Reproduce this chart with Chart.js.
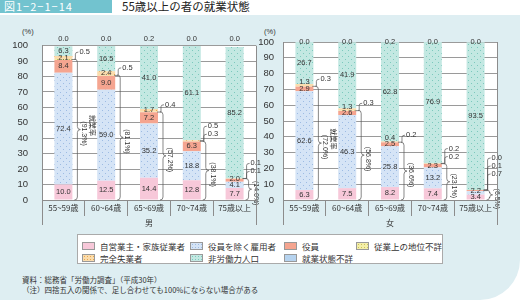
<!DOCTYPE html>
<html>
<head>
<meta charset="utf-8">
<script src="https://cdn.jsdelivr.net/npm/chart.js@4.4.1/dist/chart.umd.min.js"></script>
<style>
  body { margin: 0; width: 520px; height: 300px; overflow: hidden; background: #fff; position: relative;
         font-family: 'Noto Sans CJK JP', sans-serif; color: #333; }
  #panel { position: absolute; left: 0; top: 15px; width: 520px; height: 285px; background: #deeef2;
           border-bottom-right-radius: 40px; }
  #fig { position: absolute; left: 0; top: 0; width: 112px; height: 13px; background: #72c3cf; color: #fff;
         font-size: 11px; line-height: 13px; letter-spacing: 1px; padding-left: 4px; box-sizing: border-box; }
  #title { position: absolute; left: 122px; top: -1px; font-size: 11.5px; line-height: 15px; color: #222; }
  .unit { position: absolute; top: 27px; font-size: 7.5px; font-family: 'Liberation Sans', sans-serif; }
  canvas { position: absolute; top: 26px; }
  #legend { position: absolute; left: 77px; top: 234px; width: 366px; height: 30px; background: #fff;
            border: 1px solid #aaa; box-sizing: border-box; }
  .item { position: absolute; font-size: 8.5px; line-height: 10px; white-space: nowrap; }
  .item i { position: absolute; left: 0; top: 1px; width: 13px; height: 8px; border: 0.5px solid #999; box-sizing: border-box; }
  .item span { position: absolute; left: 18px; top: 0; }
  .note { position: absolute; left: 22px; font-size: 7.5px; line-height: 9px; color: #333; }
</style>
</head>
<body>
<div id="panel"></div>
<div id="fig">図1−2−1−14</div>
<div id="title">55歳以上の者の就業状態</div>
<div class="unit" style="left:22px">(%)</div>
<div class="unit" style="left:264px">(%)</div>
<canvas id="male" width="262" height="204" style="left:0px"></canvas>
<canvas id="female" width="262" height="204" style="left:258px"></canvas>
<div id="legend"></div>
<div class="note" style="top:275px">資料：総務省「労働力調査」（平成30年）</div>
<div class="note" style="top:285px">（注）四捨五入の関係で、足し合わせても100%にならない場合がある</div>
<script>
// categories
const ageGroups = ['55~59歳', '60~64歳', '65~69歳', '70~74歳', '75歳以上'];
const seriesNames = ['自営業主・家族従業者', '役員を除く雇用者', '役員', '従業上の地位不詳',
                     '完全失業者', '非労働力人口', '就業状態不詳'];

// 男
const maleSelfEmployed = [10.0, 12.5, 14.4, 12.8, 7.7];
const maleEmployees = [72.4, 59.0, 35.2, 18.8, 4.1];
const maleOfficers = [8.4, 9.0, 7.2, 6.3, 2.0];
const maleStatusUnknown = [0.5, 0.5, 0.4, 0.3, 0.1];
const maleUnemployed = [2.1, 2.4, 1.7, 0.5, 0.1];
const maleNotInLabor = [6.3, 16.5, 41.0, 61.1, 85.2];
const maleLaborUnknown = [0.0, 0.0, 0.2, 0.0, 0.0];
const maleEmploymentRate = [91.3, 81.1, 57.2, 38.1, 14.0];

// 女
const femaleSelfEmployed = [6.3, 7.5, 8.2, 7.4, 3.4];
const femaleEmployees = [62.6, 46.3, 25.8, 13.2, 2.2];
const femaleOfficers = [2.9, 2.6, 2.5, 2.3, 0.7];
const femaleStatusUnknown = [0.3, 0.3, 0.2, 0.2, 0.1];
const femaleUnemployed = [1.3, 1.3, 0.4, 0.2, 0.0];
const femaleNotInLabor = [26.7, 41.9, 62.8, 76.9, 93.5];
const femaleLaborUnknown = [0.0, 0.0, 0.2, 0.0, 0.0];
const femaleEmploymentRate = [72.0, 56.8, 36.6, 23.1, 6.5];

// which segments get a label outside the bar (dataset index, top to bottom)
const maleCallouts = [[3], [3], [3], [4, 3], [4, 3]];
const femaleCallouts = [[3], [3], [3], [4, 3], [4, 3, 2]];

const NUM_FONT = "'Liberation Sans', 'Noto Sans CJK JP', sans-serif";
const JP_FONT = "'Noto Sans CJK JP', sans-serif";

// fill colours: [background, dot colour or null]
const fills = [
  ['#f7c8d9', null],
  ['#d5e4f6', '#9dbbe3'],
  ['#f5a590', null],
  ['#f3eea8', '#c9c05a'],
  ['#fbdcac', '#e8a84e'],
  ['#c3e8e2', '#7cc9bd'],
  ['#b6d3ef', null]
];

function makeFill(ctx, bg, dot) {
  if (!dot) return bg;
  const tile = document.createElement('canvas');
  tile.width = 6; tile.height = 6;
  const g = tile.getContext('2d');
  g.fillStyle = bg; g.fillRect(0, 0, 6, 6);
  g.fillStyle = dot; g.fillRect(0, 0, 1, 1); g.fillRect(3, 3, 1, 1);
  return ctx.createPattern(tile, 'repeat');
}

// legend
const legendPos = [[4, 6], [112, 6], [206, 6], [278, 6], [4, 18], [112, 18], [206, 18]];
const legendOrder = [0, 1, 2, 3, 4, 5, 6];
const legendEl = document.getElementById('legend');
legendOrder.forEach((k, n) => {
  const [bg, dot] = fills[k];
  const it = document.createElement('div');
  it.className = 'item';
  it.style.left = legendPos[n][0] + 'px';
  it.style.top = legendPos[n][1] + 'px';
  const sw = document.createElement('i');
  sw.style.background = dot ? `radial-gradient(${dot} 0.7px, transparent 0.9px) 0 0/3px 3px, ${bg}` : bg;
  const tx = document.createElement('span');
  tx.textContent = seriesNames[k];
  it.appendChild(sw); it.appendChild(tx);
  legendEl.appendChild(it);
});
// legend rows: second row is 完全失業者, 非労働力人口, 就業状態不詳
legendEl.children[3].style.left = '278px';

const framePlugin = {
  id: 'frame',
  beforeDraw(chart) {
    const { ctx, chartArea: a } = chart;
    ctx.save();
    ctx.fillStyle = '#fff';
    ctx.fillRect(a.left, a.top, a.right - a.left, a.bottom - a.top);
    ctx.restore();
  },
  afterDraw(chart) {
    const { ctx, chartArea: a } = chart;
    ctx.save();
    ctx.strokeStyle = '#8c8c8c';
    ctx.lineWidth = 1;
    ctx.beginPath();
    ctx.moveTo(Math.round(a.right) + 0.5, a.top);
    ctx.lineTo(Math.round(a.right) + 0.5, a.bottom + 25);
    ctx.moveTo(Math.round(a.left) + 0.5, a.bottom);
    ctx.lineTo(Math.round(a.left) + 0.5, a.bottom + 25);
    ctx.stroke();
    ctx.restore();
  }
};

const notesPlugin = {
  id: 'notes',
  afterDatasetsDraw(chart, args, opts) {
    const ctx = chart.ctx;
    const ys = chart.scales.y;
    const n = chart.data.labels.length;
    ctx.save();
    ctx.textAlign = 'center';
    ctx.textBaseline = 'middle';
    ctx.fillStyle = '#333';
    ctx.strokeStyle = '#555';
    ctx.lineWidth = 0.7;
    for (let i = 0; i < n; i++) {
      const callouts = opts.callouts[i];
      let prevY = Infinity;
      let bar0 = null;
      chart.data.datasets.forEach((ds, di) => {
        const bar = chart.getDatasetMeta(di).data[i].getProps(['x', 'y', 'base', 'width'], true);
        if (!bar0) bar0 = bar;
        if (callouts.includes(di)) return;
        ctx.font = '7.5px ' + NUM_FONT;
        const txt = ds.data[i].toFixed(1);
        let y;
        if (di === chart.data.datasets.length - 1) {
          y = ys.top + opts.topLabelOffset;
        } else {
          y = (bar.y + bar.base) / 2;
          if (y > prevY - 6.5) y = prevY - 6.5;
          prevY = y;
        }
        ctx.fillText(txt, bar.x, y);
      });
      // callout labels with leader lines
      const right = bar0.x + bar0.width / 2;
      const empTop = ys.getPixelForValue(opts.rates[i]);
      let labelY = Math.min(empTop - 7, ys.bottom - 26);
      ctx.textAlign = 'left';
      for (let c = callouts.length - 1; c >= 0; c--) {
        const di = callouts[c];
        const seg = chart.getDatasetMeta(di).data[i].getProps(['y', 'base'], true);
        const segY = (seg.y + seg.base) / 2;
        ctx.beginPath();
        ctx.moveTo(right - 1, segY);
        ctx.lineTo(right + 3, segY);
        ctx.lineTo(right + 3, labelY + 2);
        ctx.quadraticCurveTo(right + 3, labelY, right + 6, labelY);
        ctx.stroke();
        ctx.fillText(chart.data.datasets[di].data[i].toFixed(1), right + 7, labelY);
        labelY -= 8;
      }
      ctx.textAlign = 'center';
      // employment rate brace
      const yTop = empTop, yBot = ys.bottom;
      const mid = (yTop + yBot) / 2;
      const x0 = right + 2;
      ctx.beginPath();
      ctx.moveTo(x0, yTop);
      ctx.quadraticCurveTo(x0 + 3, yTop, x0 + 3, yTop + 3);
      ctx.lineTo(x0 + 3, mid - 3);
      ctx.quadraticCurveTo(x0 + 3, mid, x0 + 6, mid);
      ctx.quadraticCurveTo(x0 + 3, mid, x0 + 3, mid + 3);
      ctx.lineTo(x0 + 3, yBot - 3);
      ctx.quadraticCurveTo(x0 + 3, yBot, x0, yBot);
      ctx.stroke();
      ctx.save();
      ctx.translate(x0 + 10, mid + 4);
      ctx.rotate(Math.PI / 2);
      ctx.font = '7px ' + NUM_FONT;
      ctx.fillText('(' + opts.rates[i].toFixed(1) + '%)', 0, 0);
      if (i === 0) {
        ctx.font = '7px ' + JP_FONT;
        ctx.fillText('就業率', -8, -8);
      }
      ctx.restore();
    }
    ctx.restore();
  }
};

function makeChart(id, series, rates, callouts, title, o) {
  const canvas = document.getElementById(id);
  const ctx = canvas.getContext('2d');
  const datasets = series.map((data, k) => ({
    label: seriesNames[k],
    data,
    backgroundColor: makeFill(ctx, fills[k][0], fills[k][1]),
    borderWidth: 0,
    barPercentage: 0.42,
    categoryPercentage: 1
  }));
  return new Chart(canvas, {
    type: 'bar',
    data: { labels: ageGroups, datasets },
    options: {
      responsive: false,
      animation: false,
      devicePixelRatio: 1,
      layout: { padding: { top: 16, right: o.padRight, left: 0, bottom: 0 } },
      plugins: {
        legend: { display: false },
        tooltip: { enabled: false },
        notes: { callouts, rates, topLabelOffset: o.topLabelOffset }
      },
      scales: {
        x: {
          stacked: true,
          grid: { offset: true, drawOnChartArea: false, tickLength: 16, color: '#8c8c8c' },
          border: { color: '#8c8c8c' },
          ticks: { padding: -13, color: '#333', font: { family: JP_FONT, size: 8 } },
          title: { display: true, text: title, color: '#333', padding: { top: 0, bottom: 2 },
                   font: { family: JP_FONT, size: 8 } },
          afterFit: (s) => { s.height = 30; }
        },
        y: {
          stacked: true,
          min: 0,
          max: 100,
          ticks: { stepSize: 10, padding: o.tickPad, color: '#333', font: { family: NUM_FONT, size: 9.5 } },
          grid: { drawTicks: false, color: '#9a9a9a' },
          border: { color: '#8c8c8c' },
          afterFit: (s) => { s.width = o.yWidth; }
        }
      }
    },
    plugins: [framePlugin, notesPlugin]
  });
}

makeChart('male',
  [maleSelfEmployed, maleEmployees, maleOfficers, maleStatusUnknown, maleUnemployed, maleNotInLabor, maleLaborUnknown],
  maleEmploymentRate, maleCallouts, '男',
  { yWidth: 42, padRight: 6, tickPad: 14, topLabelOffset: -7 });

makeChart('female',
  [femaleSelfEmployed, femaleEmployees, femaleOfficers, femaleStatusUnknown, femaleUnemployed, femaleNotInLabor, femaleLaborUnknown],
  femaleEmploymentRate, femaleCallouts, '女',
  { yWidth: 25, padRight: 23, tickPad: 9, topLabelOffset: 0 });
</script>
</body>
</html>
